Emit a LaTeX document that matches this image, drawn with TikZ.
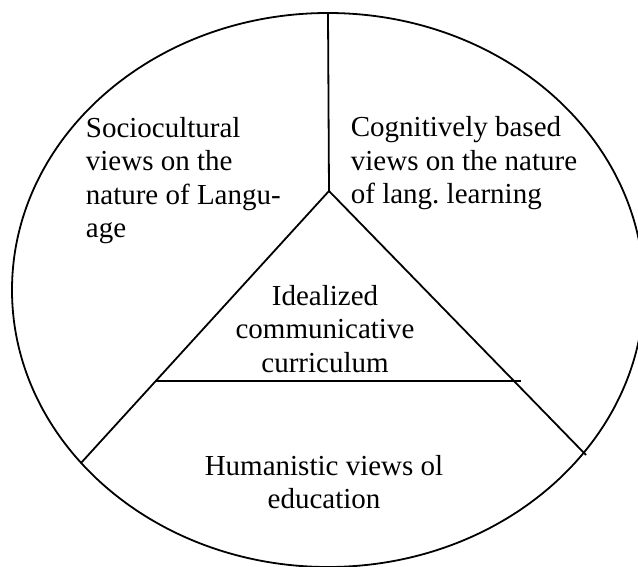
\documentclass[tikz,border=0pt]{standalone}
\usepackage{fontspec}
\setmainfont{Liberation Serif}
\begin{document}
\begin{tikzpicture}[x=1pt,y=-1pt,line width=1.8pt,
  lbl/.style={inner sep=0pt,font=\fontsize{29}{33.5}\selectfont}]
\useasboundingbox (0,0) rectangle (638,567);
\clip (0,0) rectangle (638,567);
\draw (328,290) ellipse [x radius=316pt,y radius=277pt];
\coordinate (top) at (328,13);
\coordinate (apex) at (329,191);
\coordinate (lend) at (81,463);
\coordinate (rend) at (586,455);
\coordinate (bl) at (156,381);
\coordinate (br) at (521,381);
\draw (top) -- (apex);
\draw (apex) -- (lend);
\draw (apex) -- (rend);
\draw (bl) -- (br);
\node[lbl,anchor=base west,align=left] (socio) at (85,237.5) {Sociocultural\\views on the\\nature of Langu-\\age};
\node[lbl,anchor=base west,align=left] (cogn) at (350,204) {Cognitively based\\views on the nature\\of lang.\ learning};
\node[lbl,anchor=base,align=center] (ideal) at (325,372) {Idealized\\communicative\\curriculum};
\node[lbl,anchor=base,align=center] (human) at (324,508.5) {Humanistic views ol\\education};
\end{tikzpicture}
\end{document}
